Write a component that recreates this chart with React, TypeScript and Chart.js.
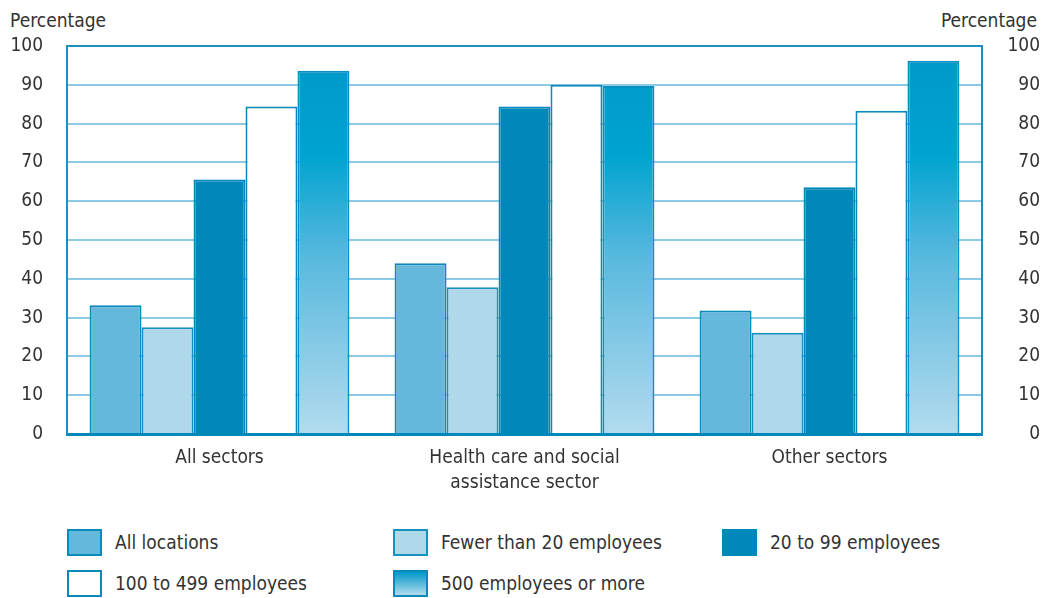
import React, { useEffect, useRef } from 'react';
import { Chart, registerables } from 'chart.js';

Chart.register(...registerables);

const categories: (string | string[])[] = ['All sectors', ['Health care and social', 'assistance sector'], 'Other sectors'];
const seriesNames = ['All locations', 'Fewer than 20 employees', '20 to 99 employees', '100 to 499 employees', '500 employees or more'];
const allLocations = [33.2, 44.0, 31.8];
const fewerThan20 = [27.5, 37.8, 26.1];
const from20to99 = [65.6, 84.4, 63.6];
const from100to499 = [84.4, 90.0, 83.3];
const from500plus = [93.6, 89.7, 96.2];
const yTickValues = [0, 10, 20, 30, 40, 50, 60, 70, 80, 90, 100];

const FONT = "'DejaVu Sans Condensed', 'Liberation Sans', sans-serif";
const FS = 19;
const TEXT = '#333333';
const BORDER = '#0a89bb';
const GRID = '#8ccae3';

function gradientFill(ctx: any) {
  const chart = ctx.chart;
  const area = chart.chartArea;
  if (!area) return '#3fb0d8';
  const g = chart.ctx.createLinearGradient(0, area.top, 0, area.bottom);
  g.addColorStop(0, '#0098c8');
  g.addColorStop(0.28, '#00a3d0');
  g.addColorStop(0.55, '#5ab9de');
  g.addColorStop(1, '#b2dbee');
  return g;
}

const legendItems = [
  { label: seriesNames[0], bg: '#64b8dc', border: BORDER, x: 67, y: 528 },
  { label: seriesNames[1], bg: '#afd8eb', border: '#1590c0', x: 393, y: 528 },
  { label: seriesNames[2], bg: '#0088bb', border: '#0088bb', x: 722, y: 528 },
  { label: seriesNames[3], bg: '#ffffff', border: BORDER, x: 67, y: 569 },
  { label: seriesNames[4], bg: 'linear-gradient(#0098c8, #b2dbee)', border: BORDER, x: 393, y: 569 },
];

export default function App() {
  const canvasRef = useRef<HTMLCanvasElement | null>(null);

  useEffect(() => {
    const canvas = canvasRef.current;
    if (!canvas) return;
    const chart = new Chart(canvas, {
      type: 'bar',
      data: {
        labels: categories as any,
        datasets: [
          { label: seriesNames[0], data: allLocations, backgroundColor: '#64b8dc', borderColor: BORDER, borderWidth: 2 },
          { label: seriesNames[1], data: fewerThan20, backgroundColor: '#afd8eb', borderColor: '#1590c0', borderWidth: 2 },
          { label: seriesNames[2], data: from20to99, backgroundColor: '#0088bb', borderColor: '#0088bb', borderWidth: 2 },
          { label: seriesNames[3], data: from100to499, backgroundColor: '#ffffff', borderColor: BORDER, borderWidth: 2 },
          { label: seriesNames[4], data: from500plus, backgroundColor: gradientFill as any, borderColor: '#0a8fc0', borderWidth: 2 },
        ],
      },
      options: {
        animation: false,
        responsive: false,
        maintainAspectRatio: false,
        layout: { padding: { top: 46, bottom: 0, left: 0, right: 13 } },
        plugins: { legend: { display: false }, tooltip: { enabled: false } },
        datasets: { bar: { categoryPercentage: 0.852, barPercentage: 1 } } as any,
        scales: {
          x: {
            grid: { display: false },
            border: { display: true, color: '#0088bb', width: 3 },
            ticks: { color: TEXT, font: { family: FONT, size: FS, lineHeight: 1.3 }, padding: 4, maxRotation: 0 },
            afterFit: (s: any) => { s.height = 66; },
          },
          y: {
            position: 'left',
            min: 0,
            max: 100,
            afterBuildTicks: (s: any) => { s.ticks = yTickValues.map((v) => ({ value: v })); },
            grid: {
              drawTicks: false,
              lineWidth: 2,
              color: (c: any) => (c.tick && c.tick.value === 100 ? '#1a8fc0' : GRID),
            },
            border: { display: true, color: '#1a8fc0', width: 2 },
            ticks: { color: TEXT, font: { family: FONT, size: FS }, padding: 24 },
            afterFit: (s: any) => { s.width = 67; },
          },
          y2: {
            position: 'right',
            min: 0,
            max: 100,
            afterBuildTicks: (s: any) => { s.ticks = yTickValues.map((v) => ({ value: v })); },
            grid: { display: false, drawTicks: false },
            border: { display: true, color: '#1a8fc0', width: 2 },
            ticks: { color: TEXT, font: { family: FONT, size: FS }, padding: 13, crossAlign: 'far' },
            afterFit: (s: any) => { s.width = 58; },
          },
        },
      } as any,
    });
    return () => chart.destroy();
  }, []);

  return (
    <div style={{ position: 'fixed', left: 0, top: 0, width: 1053, height: 598, background: '#ffffff', fontFamily: FONT, color: TEXT }}>
      <div style={{ position: 'absolute', left: 10, top: 8, fontSize: FS, lineHeight: '24px' }}>Percentage</div>
      <div style={{ position: 'absolute', right: 16, top: 8, fontSize: FS, lineHeight: '24px' }}>Percentage</div>
      <canvas ref={canvasRef} width={1053} height={500} style={{ position: 'absolute', left: 0, top: 0, width: 1053, height: 500 }} />
      {legendItems.map((it) => (
        <div key={it.label} style={{ position: 'absolute', left: it.x, top: it.y, height: 28, display: 'flex', alignItems: 'center', whiteSpace: 'nowrap' }}>
          <div style={{ width: 35, height: 27, boxSizing: 'border-box', border: `2px solid ${it.border}`, background: it.bg }} />
          <span style={{ marginLeft: 13, fontSize: FS }}>{it.label}</span>
        </div>
      ))}
    </div>
  );
}
